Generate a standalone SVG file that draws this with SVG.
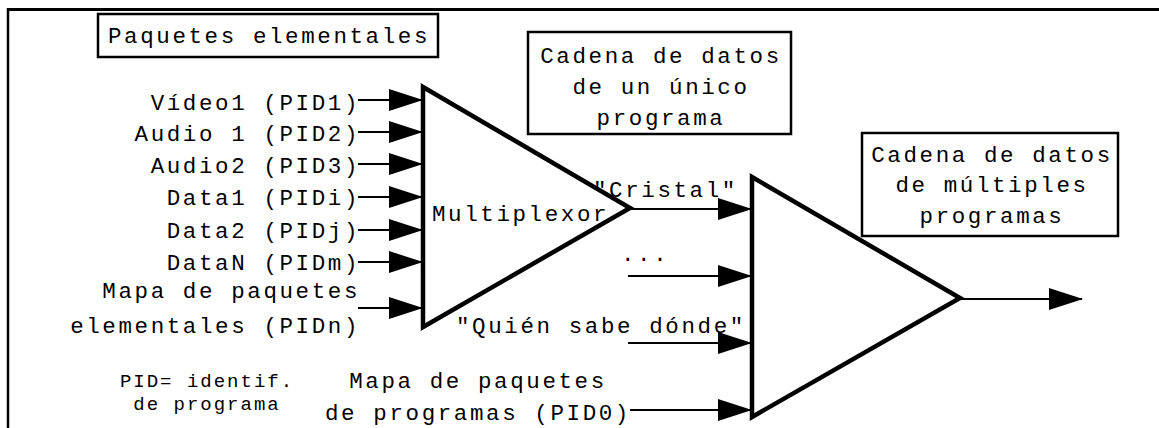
<svg xmlns="http://www.w3.org/2000/svg" width="1159" height="428" viewBox="0 0 1159 428">
  <style>
    .t { font-family: "Liberation Mono", "DejaVu Sans Mono", monospace; font-size: 22.5px; letter-spacing: 2.6px; fill: #000; }
    .s { font-family: "Liberation Mono", "DejaVu Sans Mono", monospace; font-size: 19px; letter-spacing: 2px; fill: #000; }
    .box { fill: #fff; stroke: #000; stroke-width: 2.5; }
    .tri { fill: none; stroke: #000; stroke-width: 4.5; stroke-linejoin: miter; }
    .con { stroke: #000; stroke-width: 2.2; fill: none; marker-end: url(#ah); }
  </style>
  <defs>
    <marker id="ah" markerUnits="userSpaceOnUse" markerWidth="34" markerHeight="22" refX="33" refY="11" orient="auto">
      <path d="M0,0 L34,11 L0,22 z" fill="#000"/>
    </marker>
  </defs>
  <rect x="0" y="0" width="1159" height="428" fill="#fff"/>
  <g id="frame">
    <line x1="8" y1="9.5" x2="1159" y2="9.5" stroke="#000" stroke-width="3"/>
    <line x1="8" y1="8" x2="8" y2="428" stroke="#000" stroke-width="2.5"/>
  </g>

  <g id="connectors">
    <line class="con" x1="358" y1="100" x2="422" y2="100"/>
    <line class="con" x1="358" y1="132" x2="422" y2="132"/>
    <line class="con" x1="358" y1="164" x2="422" y2="164"/>
    <line class="con" x1="358" y1="197" x2="422" y2="197"/>
    <line class="con" x1="358" y1="230" x2="422" y2="230"/>
    <line class="con" x1="358" y1="262" x2="422" y2="262"/>
    <line class="con" x1="358" y1="308" x2="422" y2="308"/>
    <line class="con" x1="630" y1="209" x2="751" y2="209"/>
    <line class="con" x1="628" y1="276" x2="751" y2="276"/>
    <line class="con" x1="628" y1="343" x2="751" y2="343"/>
    <line class="con" x1="630" y1="410" x2="751" y2="410"/>
    <line class="con" x1="960" y1="299" x2="1082" y2="299"/>
  </g>

  <g id="box-paquetes">
    <rect class="box" x="98" y="14" width="340" height="43"/>
    <text class="t" x="269" y="43" text-anchor="middle">Paquetes elementales</text>
  </g>

  <g id="box-unico">
    <rect class="box" x="528" y="32" width="263" height="102"/>
    <text class="t" x="661" y="63" text-anchor="middle">Cadena de datos</text>
    <text class="t" x="661" y="94" text-anchor="middle">de un único</text>
    <text class="t" x="661" y="125" text-anchor="middle">programa</text>
  </g>

  <g id="box-multiples">
    <rect class="box" x="862" y="133" width="256" height="103"/>
    <text class="t" x="992" y="162" text-anchor="middle">Cadena de datos</text>
    <text class="t" x="992" y="192" text-anchor="middle">de múltiples</text>
    <text class="t" x="992" y="223" text-anchor="middle">programas</text>
  </g>

  <g id="inputs">
    <text class="t" x="360" y="110" text-anchor="end">Vídeo1 (PID1)</text>
    <text class="t" x="360" y="141" text-anchor="end">Audio 1 (PID2)</text>
    <text class="t" x="360" y="173" text-anchor="end">Audio2 (PID3)</text>
    <text class="t" x="360" y="205" text-anchor="end">Data1 (PIDi)</text>
    <text class="t" x="360" y="238" text-anchor="end">Data2 (PIDj)</text>
    <text class="t" x="360" y="270" text-anchor="end">DataN (PIDm)</text>
    <text class="t" x="360" y="298" text-anchor="end">Mapa de paquetes</text>
    <text class="t" x="360" y="333" text-anchor="end">elementales (PIDn)</text>
  </g>

  <g id="note">
    <text class="s" x="207" y="387" text-anchor="middle">PID= identif.</text>
    <text class="s" x="207" y="410" text-anchor="middle">de programa</text>
  </g>

  <g id="multiplexor">
    <polygon class="tri" points="423,87 630,208 423,327"/>
    <text class="t" x="432" y="221">Multiplexor</text>
  </g>

  <g id="stream-labels">
    <text class="t" x="593" y="197">"Cristal"</text>
    <text class="t" x="621" y="261">...</text>
    <text class="t" x="456" y="333">"Quién sabe dónde"</text>
    <text class="t" x="478" y="388" text-anchor="middle">Mapa de paquetes</text>
    <text class="t" x="478" y="420" text-anchor="middle">de programas (PID0)</text>
  </g>

  <g id="multiplexor2">
    <polygon class="tri" points="752,177 960,298 752,417"/>
  </g>
</svg>
